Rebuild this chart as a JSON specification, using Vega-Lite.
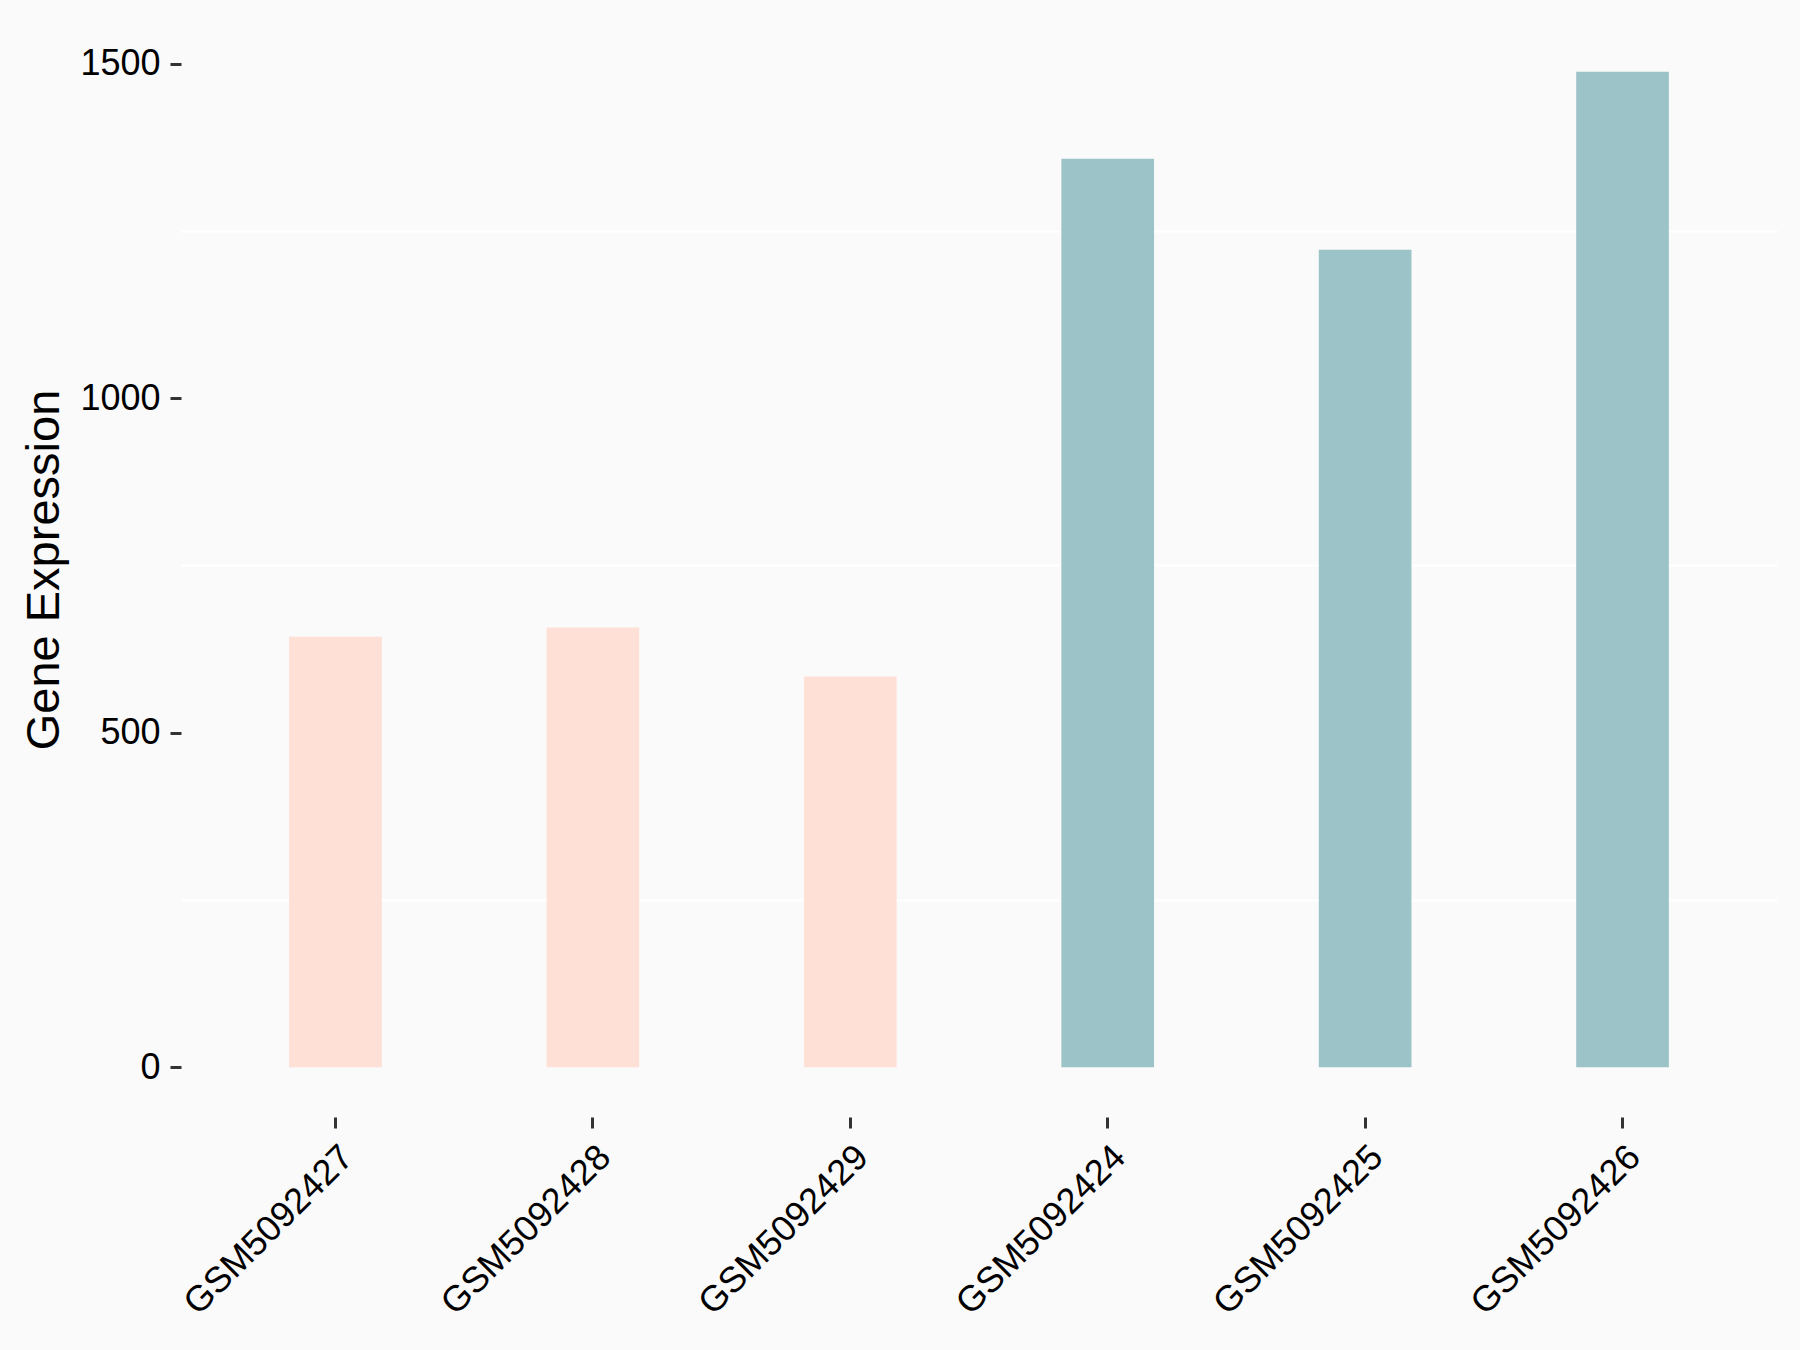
{
  "$schema": "https://vega.github.io/schema/vega-lite/v6.json",
  "width": 1596,
  "height": 1095,
  "autosize": {"type": "none"},
  "padding": {"left": 181, "top": 22, "right": 23, "bottom": 233},
  "background": "#FAFAFA",
  "config": {
    "view": {"stroke": null, "fill": "#FAFAFA"},
    "font": "Liberation Sans"
  },
  "data": {
    "values": [
      {"sample": "GSM5092427", "expression": 643.5, "group": "A"},
      {"sample": "GSM5092428", "expression": 657.0, "group": "A"},
      {"sample": "GSM5092429", "expression": 583.8, "group": "A"},
      {"sample": "GSM5092424", "expression": 1357.7, "group": "B"},
      {"sample": "GSM5092425", "expression": 1221.7, "group": "B"},
      {"sample": "GSM5092426", "expression": 1487.7, "group": "B"}
    ]
  },
  "mark": {"type": "bar"},
  "encoding": {
    "x": {
      "field": "sample",
      "type": "nominal",
      "sort": null,
      "scale": {"paddingInner": 0.64, "paddingOuter": 0.42},
      "axis": {
        "title": null,
        "domain": false,
        "grid": false,
        "labelAngle": -45,
        "labelAlign": "right",
        "labelBaseline": "top",
        "labelFont": "Liberation Sans",
        "labelFontSize": 36,
        "labelColor": "#000000",
        "labelPadding": 11,
        "labelLimit": 0,
        "labelOverlap": false,
        "tickSize": 11,
        "tickWidth": 3,
        "tickColor": "#333333"
      }
    },
    "y": {
      "field": "expression",
      "type": "quantitative",
      "scale": {"domain": [-74.4, 1562.1], "nice": false, "zero": false},
      "axis": {
        "title": "Gene Expression",
        "titleFont": "Liberation Sans",
        "titleFontSize": 47,
        "titleFontWeight": "normal",
        "titleColor": "#000000",
        "titlePadding": 11,
        "domain": false,
        "values": [0, 250, 500, 750, 1000, 1250, 1500],
        "format": "d",
        "labelExpr": "datum.value % 500 == 0 ? datum.label : ''",
        "labelFont": "Liberation Sans",
        "labelFontSize": 36,
        "labelColor": "#000000",
        "labelPadding": 10,
        "tickSize": 11,
        "tickWidth": 3,
        "tickColor": "#333333",
        "tickOpacity": {"condition": {"test": "datum.value % 500 != 0", "value": 0}, "value": 1},
        "grid": true,
        "gridColor": "#FFFFFF",
        "gridWidth": 2,
        "gridOpacity": {"condition": {"test": "datum.value % 500 == 250", "value": 1}, "value": 0}
      }
    },
    "y2": {"datum": 0},
    "color": {
      "field": "group",
      "type": "nominal",
      "scale": {"domain": ["A", "B"], "range": ["#FEE0D6", "#9CC3C7"]},
      "legend": null
    }
  }
}
